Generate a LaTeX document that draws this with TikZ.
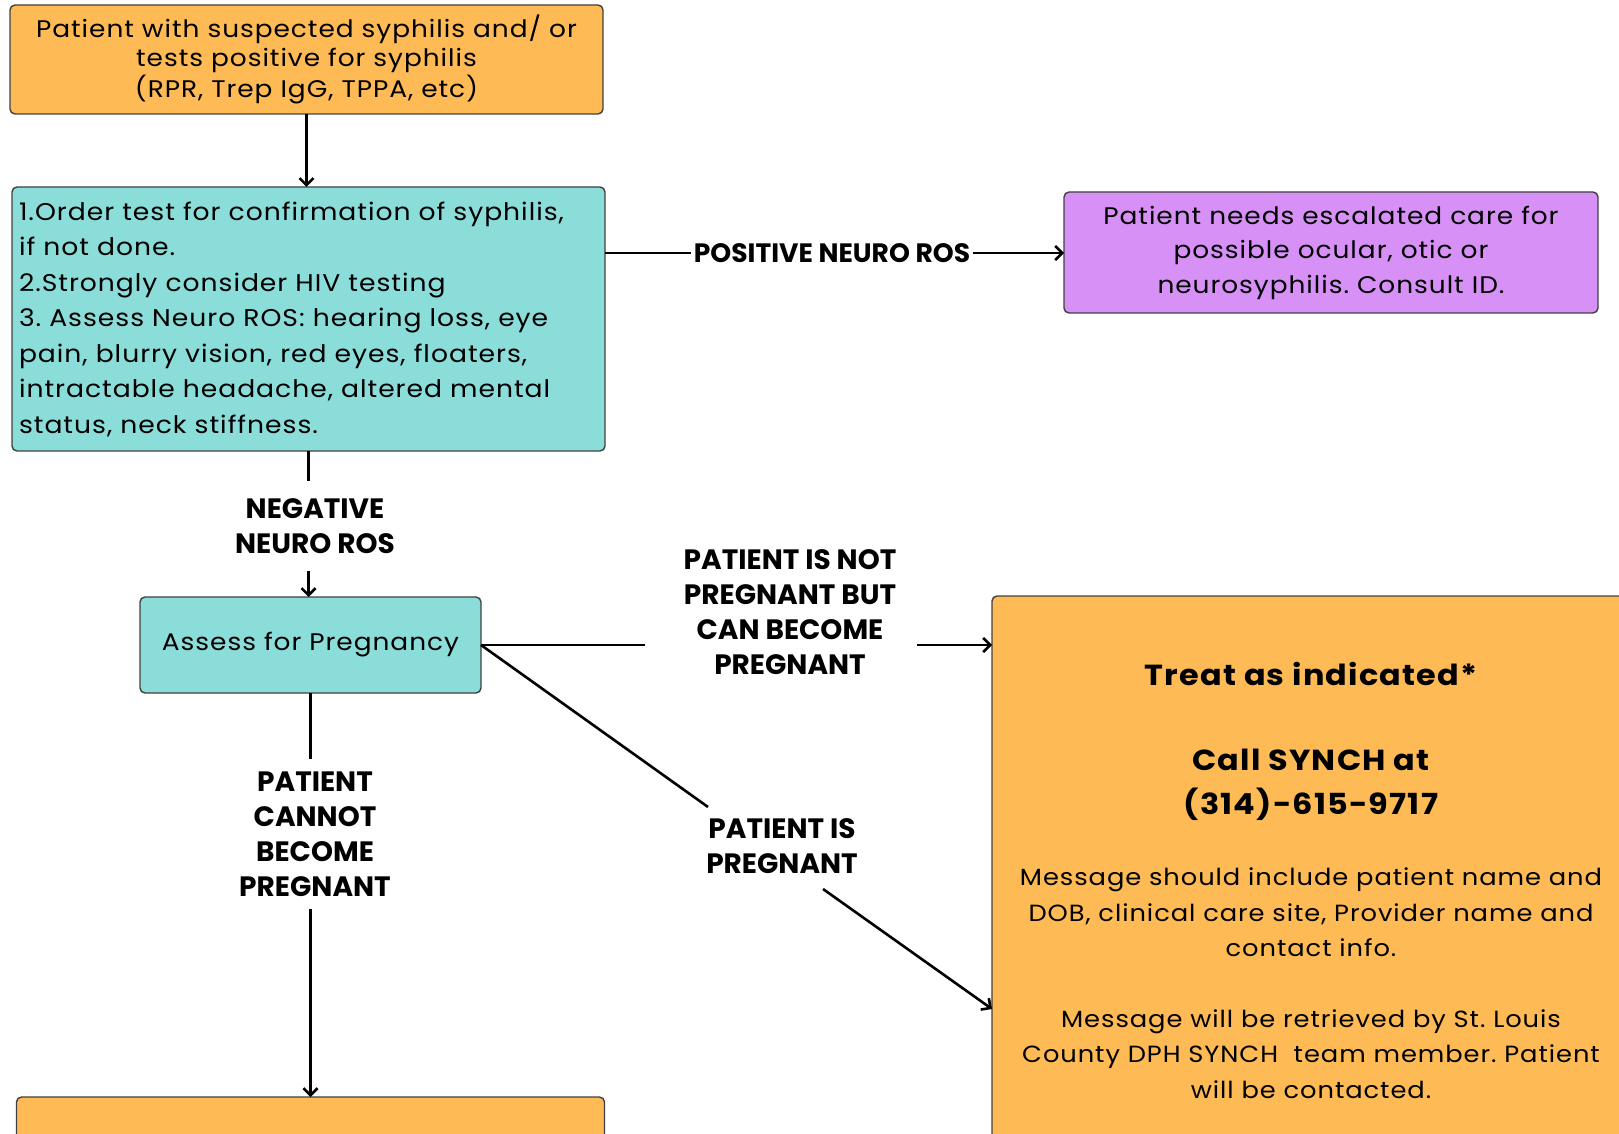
\documentclass[tikz,border=0pt]{standalone}
\usepackage{fontspec}
\setmainfont{Poppins}[FakeStretch=1.1, LetterSpace=4]
\newfontfamily\lblfont{Poppins}
\usetikzlibrary{positioning,arrows.meta}

\definecolor{boxorange}{HTML}{FDBA55}
\definecolor{boxteal}{HTML}{8BDDDA}
\definecolor{boxpurple}{HTML}{D690F6}

\begin{document}
\frenchspacing
\begin{tikzpicture}[
		x=0.5pt, y=-0.5pt,
		>={Straight Barb[length=3.5pt, width=7pt]},
		every node/.style = {
			outer sep=0pt, inner sep=0pt
		},
		stepbox/.style = {draw=black!75, line width=0.7pt, rounded corners=2.5pt},
		lbl/.style = {font=\lblfont\bfseries\fontsize{14}{17.5}\selectfont, align=center},
		link/.style = {line width=1.3pt}
		]
		\useasboundingbox (0,0) rectangle (1619,1134);
		\clip (0,0) rectangle (1619,1134);
		% boxes
		\node[stepbox, fill=boxorange, anchor=north west, minimum width=296.5pt, minimum height=54.5pt,
			align=center, font=\fontsize{12}{14.25}\selectfont] (start) at (10,5)
			{Patient with suspected syphilis and/ or\\tests positive for syphilis\\(RPR, Trep IgG, TPPA, etc)};
		\node[stepbox, fill=boxteal, below=36.5pt of start, xshift=1pt, minimum height=132pt, text width=289.5pt,
			inner xsep=3.5pt, align=left, font=\fontsize{12.1}{17.75}\selectfont] (order)
			{1.Order test for confirmation of syphilis,\\if not done.\\2.Strongly consider HIV testing\\3. Assess Neuro ROS: hearing loss, eye\\pain, blurry vision, red eyes, floaters,\\intractable headache, altered mental\\status, neck stiffness.};
		\node[stepbox, fill=boxpurple, anchor=north west, minimum width=267pt, minimum height=60.5pt,
			align=center, font=\fontsize{12}{17.25}\selectfont] (consult) at (1064,192)
			{Patient needs escalated care for\\possible ocular, otic or\\neurosyphilis. Consult ID.};
		\node[stepbox, fill=boxteal, below=73pt of order, xshift=1pt, minimum width=170.5pt, minimum height=48pt,
			font=\fontsize{12}{14}\selectfont] (assess) {Assess for Pregnancy};
		\node[stepbox, fill=boxorange, anchor=north west, minimum width=319pt, minimum height=284pt,
			align=center, font=\fontsize{11.7}{17.75}\selectfont] (treat) at (992,596)
			{{\bfseries\fontsize{14.5}{17.75}\selectfont Treat as indicated*}\\[24.75pt]
			{\bfseries\fontsize{14.5}{17.75}\selectfont Call SYNCH at}\\[4.25pt]
			{\bfseries\fontsize{14.5}{17.75}\selectfont (314)-615-9717}\\[18pt]
			Message should include patient name and\\DOB, clinical care site, Provider name and\\contact info.\\[17.5pt]
			Message will be retrieved by St. Louis\\County DPH SYNCH\ \ team member. Patient\\will be contacted.};
		\node[stepbox, fill=boxorange, below=202pt of assess, minimum width=294pt, minimum height=40pt] (nonpreg) {};
		% labels
		\node[lbl, font=\lblfont\bfseries\fontsize{13.3}{17.5}\selectfont, inner xsep=1.5pt] (posros) at (832,253) {POSITIVE NEURO ROS};
		\node[lbl, minimum height=45pt] (negros) at (315,526) {NEGATIVE\\NEURO ROS};
		\node[lbl] (notpreg) at (790,612) {PATIENT IS NOT\\PREGNANT BUT\\CAN BECOME\\PREGNANT};
		\node[lbl] (ispreg) at (782,846) {PATIENT IS\\PREGNANT};
		\node[lbl, minimum height=75pt] (cannot) at (315,834) {PATIENT\\CANNOT\\BECOME\\PREGNANT};
		\coordinate (np1) at (645,645);
		\coordinate (np2) at (917,645);
		\coordinate (pp1) at (708,807);
		\coordinate (pp2) at (823,889);
		\coordinate (pp3) at (992,1009);
		% connectors
		\draw[link, ->] (start.south) -- (start.south |- order.north);
		\draw[link] (posros -| order.east) -- (posros.west);
		\draw[link, ->] (posros.east) -- (posros -| consult.west);
		\draw[link] (order.south) -- (order.south |- negros.north);
		\draw[link, ->] (order.south |- negros.south) -- (order.south |- assess.north);
		\draw[link] (assess.east) -- (np1);
		\draw[link, ->] (np2) -- (np2 -| treat.west);
		\draw[link] (assess.east) -- (pp1);
		\draw[link, ->] (pp2) -- (pp3);
		\draw[link] (assess.south) -- (assess.south |- cannot.north);
		\draw[link, ->] (assess.south |- cannot.south) -- (nonpreg);
	\end{tikzpicture}
\end{document}
